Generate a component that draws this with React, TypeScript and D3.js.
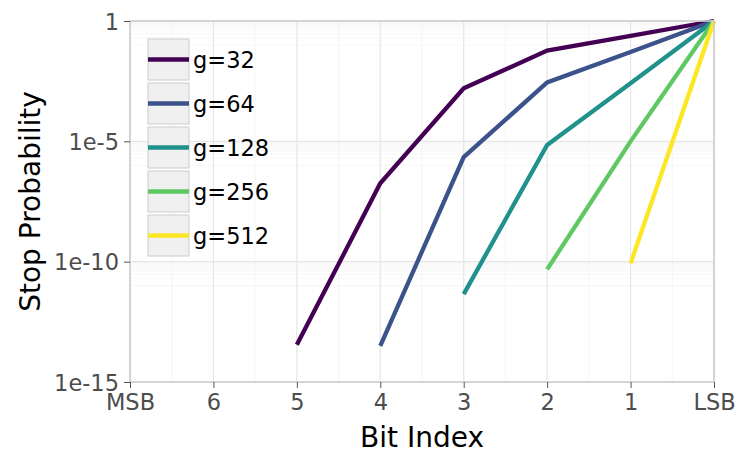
import * as d3 from 'd3';
import React, { useRef, useEffect } from 'react';

const bits = ['MSB', '6', '5', '4', '3', '2', '1', 'LSB'];
const groups = ['g=32', 'g=64', 'g=128', 'g=256', 'g=512'];
const colors = ['#440154', '#3b528b', '#21918c', '#5ec962', '#fde725'];

// stop probability per bit, null where the series has no point
const g32 = [null, null, 3.5e-14, 1.8e-7, 1.6e-3, 0.059, 0.24, 1];
const g64 = [null, null, null, 3.2e-14, 2.2e-6, 2.8e-3, 0.052, 1];
const g128 = [null, null, null, null, 4.5e-12, 7.1e-6, 2.6e-3, 1];
const g256 = [null, null, null, null, null, 4.8e-11, 1.0e-5, 1];
const g512 = [null, null, null, null, null, null, 8.5e-11, 1];

const yTicks = [1e-15, 1e-10, 1e-5, 1];
const yTickLabels = ['1e-15', '1e-10', '1e-5', '1'];

function App() {
    const ref = useRef<SVGSVGElement>(null);

    useEffect(() => {
        const width = 736, height = 455;
        const margin = { top: 21, right: 22, bottom: 73, left: 130 };
        const series = [g32, g64, g128, g256, g512];

        const svg = d3.select(ref.current);
        svg.selectAll('*').remove();

        const x = d3.scalePoint<string>()
            .domain(bits)
            .range([margin.left, width - margin.right])
            .padding(0);
        const y = d3.scaleLog()
            .domain([1e-15, 1])
            .range([height - margin.bottom, margin.top]);

        const x0 = margin.left, x1 = width - margin.right;
        const y0 = height - margin.bottom, y1 = margin.top;

        const grid = svg.append('g');

        // minor y grid: k * 10^(m-1) under each major line
        const minorY: number[] = [];
        yTicks.slice(1).forEach(m => {
            for (let k = 1; k <= 9; k++) minorY.push(k * m / 10);
        });
        grid.selectAll('.ymin').data(minorY).enter().append('line')
            .attr('x1', x0).attr('x2', x1)
            .attr('y1', d => y(d)).attr('y2', d => y(d))
            .attr('stroke', '#f3f3f3').attr('stroke-width', 0.7);

        // minor x grid at midpoints
        const step = x.step();
        grid.selectAll('.xmin').data(bits.slice(0, -1)).enter().append('line')
            .attr('x1', d => (x(d) as number) + step / 2)
            .attr('x2', d => (x(d) as number) + step / 2)
            .attr('y1', y0).attr('y2', y1)
            .attr('stroke', '#f3f3f3').attr('stroke-width', 0.8);

        grid.selectAll('.ymaj').data(yTicks).enter().append('line')
            .attr('x1', x0).attr('x2', x1)
            .attr('y1', d => y(d)).attr('y2', d => y(d))
            .attr('stroke', '#e6e6e6').attr('stroke-width', 1.2);
        grid.selectAll('.xmaj').data(bits).enter().append('line')
            .attr('x1', d => x(d) as number).attr('x2', d => x(d) as number)
            .attr('y1', y0).attr('y2', y1)
            .attr('stroke', '#e6e6e6').attr('stroke-width', 1.2);

        // lines
        const line = d3.line<number | null>()
            .defined(d => d !== null)
            .x((d, i) => x(bits[i]) as number)
            .y(d => y(d as number));

        svg.append('g').selectAll('path').data(series).enter().append('path')
            .attr('d', d => line(d))
            .attr('fill', 'none')
            .attr('stroke', (d, i) => colors[i])
            .attr('stroke-width', 4.3);

        // panel border
        svg.append('rect')
            .attr('x', x0).attr('y', y1)
            .attr('width', x1 - x0).attr('height', y0 - y1)
            .attr('fill', 'none')
            .attr('stroke', '#cccccc').attr('stroke-width', 1.6);

        // axes
        const xAxis = svg.append('g')
            .attr('transform', `translate(0,${y0})`)
            .call(d3.axisBottom(x).tickSize(6).tickPadding(6));
        const yAxis = svg.append('g')
            .attr('transform', `translate(${x0},0)`)
            .call(d3.axisLeft(y).tickValues(yTicks)
                .tickFormat((d, i) => yTickLabels[i]).tickSize(6).tickPadding(5));

        [xAxis, yAxis].forEach(a => {
            a.select('.domain').remove();
            a.selectAll('line').attr('stroke', '#555555').attr('stroke-width', 1);
            a.selectAll('text')
                .attr('fill', '#4d4d4d')
                .style('font-family', 'DejaVu Sans')
                .style('font-size', '22.5px');
        });
        yAxis.selectAll('text').attr('dy', '0.36em');

        // axis titles
        svg.append('text')
            .attr('x', (x0 + x1) / 2).attr('y', 447)
            .attr('text-anchor', 'middle')
            .style('font-family', 'DejaVu Sans').style('font-size', '28px')
            .attr('fill', '#000')
            .text('Bit Index');
        svg.append('text')
            .attr('transform', `translate(40,${(y0 + y1) / 2}) rotate(-90)`)
            .attr('text-anchor', 'middle')
            .style('font-family', 'DejaVu Sans').style('font-size', '28px')
            .attr('fill', '#000')
            .text('Stop Probability');

        // legend
        const legend = svg.append('g').attr('transform', 'translate(148,39)');
        const item = legend.selectAll('g').data(groups).enter().append('g')
            .attr('transform', (d, i) => `translate(0,${i * 44})`);
        item.append('rect')
            .attr('width', 41).attr('height', 41)
            .attr('fill', '#f0f0f0').attr('stroke', '#cccccc').attr('stroke-width', 1);
        item.append('line')
            .attr('x1', 0).attr('x2', 41)
            .attr('y1', 20.5).attr('y2', 20.5)
            .attr('stroke', (d, i) => colors[i]).attr('stroke-width', 4.3);
        item.append('text')
            .attr('x', 45).attr('y', 20.5).attr('dy', '0.36em')
            .style('font-family', 'DejaVu Sans').style('font-size', '22.5px')
            .attr('fill', '#000')
            .text(d => d);
    }, []);

    return (
        <svg ref={ref} width={736} height={455}
            style={{ position: 'absolute', left: 0, top: 0, background: '#fff' }}>
        </svg>
    );
}

export default App;
